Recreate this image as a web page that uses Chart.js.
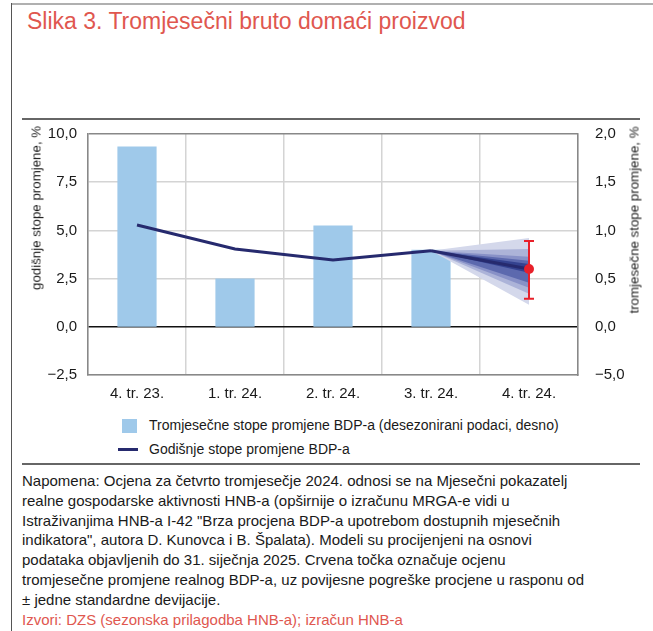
<!DOCTYPE html>
<html>
<head>
<meta charset="utf-8">
<script src="https://cdn.jsdelivr.net/npm/chart.js@4.4.1/dist/chart.umd.min.js"></script>
<style>
  body { margin: 0; background: #fff; width: 653px; height: 631px; position: relative; overflow: hidden;
         font-family: "Liberation Sans", Arial, sans-serif; color: #1a1a1a; }
  .abs { position: absolute; }
  #title { left: 27px; top: 8px; font-size: 23px; color: #e0574f; white-space: nowrap; }
  #frameTop { left: 12px; top: 3px; width: 641px; height: 2px; background: #b0b0b0; }
  #frameLeft { left: 11px; top: 3px; width: 1px; height: 628px; background: #555; }
  .rule { left: 22px; width: 618px; height: 1.5px; background: #666; }
  #chartBox { left: 0; top: 108px; width: 653px; height: 300px; }
  .ytitle { font-size: 13.3px; white-space: nowrap; transform: translate(-50%, -50%) rotate(-90deg); }
  .legend { left: 149px; font-size: 14px; white-space: nowrap; }
  #note { left: 22px; top: 471px; font-size: 15px; line-height: 19.8px; white-space: nowrap; }
  #source { left: 22px; top: 611px; font-size: 15px; color: #e0574f; white-space: nowrap; }
</style>
</head>
<body>
<div id="frameTop" class="abs"></div>
<div id="frameLeft" class="abs"></div>
<div id="title" class="abs">Slika 3. Tromjesečni bruto domaći proizvod</div>
<div id="chartBox" class="abs"><canvas id="gdp" width="653" height="300"></canvas></div>
<div class="abs rule" style="top:118px"></div>
<div class="abs ytitle" style="left:36px; top:208px">godišnje stope promjene, %</div>
<div class="abs ytitle" style="left:634px; top:220px">tromjesečne stope promjene, %</div>

<div class="abs" style="left:122px; top:419px; width:15px; height:14px; background:#9fc9ea"></div>
<div class="abs legend" style="top:417px">Tromjesečne stope promjene BDP-a (desezonirani podaci, desno)</div>
<div class="abs" style="left:118px; top:448px; width:20px; height:3px; background:#262a6e"></div>
<div class="abs legend" style="top:441px">Godišnje stope promjene BDP-a</div>

<div class="abs rule" style="top:463px"></div>
<div id="note" class="abs">Napomena: Ocjena za četvrto tromjesečje 2024. odnosi se na Mjesečni pokazatelj<br>realne gospodarske aktivnosti HNB-a (opširnije o izračunu MRGA-e vidi u<br>Istraživanjima HNB-a I-42 "Brza procjena BDP-a upotrebom dostupnih mjesečnih<br>indikatora", autora D. Kunovca i B. Špalata). Modeli su procijenjeni na osnovi<br>podataka objavljenih do 31. siječnja 2025. Crvena točka označuje ocjenu<br>tromjesečne promjene realnog BDP-a, uz povijesne pogreške procjene u rasponu od<br>± jedne standardne devijacije.</div>
<div id="source" class="abs">Izvori: DZS (sezonska prilagodba HNB-a); izračun HNB-a</div>

<script>
// categories and series
const quarters = ['4. tr. 23.', '1. tr. 24.', '2. tr. 24.', '3. tr. 24.', '4. tr. 24.'];
const quarterlyGrowth = [1.87, 0.50, 1.05, 0.80, null];   // right axis, bars
const annualGrowth = [5.28, 4.04, 3.47, 3.94, null];      // left axis, line
const annualNowcast = [null, null, null, 3.94, 3.0];      // line into the fan

// fan bands at 4. tr. 24. (left axis), outer -> inner
const fanUpper = [4.61, 4.04, 3.63, 3.42, 3.26];
const fanLower = [1.14, 1.71, 2.02, 2.28, 2.80];
const fanColors = ['#d4d8eb', '#acb3d8', '#8891c7', '#5c69ae', '#34428f'];

// red point estimate of quarterly change with +/- 1 sd (right axis)
const nowcastQoQ = [null, null, null, null, 0.60];
const errLow = 0.29;
const errHigh = 0.89;

const leftTicks = ['−2,5', '0,0', '2,5', '5,0', '7,5', '10,0'];
const rightTicks = ['−5,0', '0,0', '0,5', '1,0', '1,5', '2,0'];

const fontFam = '"Liberation Sans", Arial, sans-serif';
Chart.defaults.font.family = fontFam;
Chart.defaults.color = '#1a1a1a';

const fanDatasets = [];
fanUpper.forEach((up, i) => {
  const startVal = annualNowcast[3];
  fanDatasets.push({
    type: 'line', yAxisID: 'y',
    data: [null, null, null, startVal, up],
    borderWidth: 0, pointRadius: 0,
    backgroundColor: fanColors[i], fill: '+1',
    order: 50 - i * 2
  });
  fanDatasets.push({
    type: 'line', yAxisID: 'y',
    data: [null, null, null, startVal, fanLower[i]],
    borderWidth: 0, pointRadius: 0, fill: false,
    order: 50 - i * 2
  });
});

const errorBar = {
  id: 'errorBar',
  afterDatasetsDraw(chart) {
    const ctx = chart.ctx;
    const x = chart.scales.x.getPixelForValue(4);
    const y1 = chart.scales.y1.getPixelForValue(errHigh);
    const y2 = chart.scales.y1.getPixelForValue(errLow);
    ctx.save();
    ctx.strokeStyle = '#e8202a';
    ctx.lineWidth = 2;
    ctx.beginPath();
    ctx.moveTo(x, y1); ctx.lineTo(x, y2);
    ctx.moveTo(x - 5, y1); ctx.lineTo(x + 5, y1);
    ctx.moveTo(x - 5, y2); ctx.lineTo(x + 5, y2);
    ctx.stroke();
    ctx.restore();
  }
};

new Chart(document.getElementById('gdp'), {
  type: 'bar',
  data: {
    labels: quarters,
    datasets: [
      {
        label: 'Tromjesečne stope promjene BDP-a (desezonirani podaci, desno)',
        data: quarterlyGrowth, yAxisID: 'y1',
        backgroundColor: '#9fc9ea', barPercentage: 0.4, categoryPercentage: 1,
        order: 100
      },
      ...fanDatasets,
      {
        label: 'Godišnje stope promjene BDP-a',
        type: 'line', data: annualGrowth, yAxisID: 'y',
        borderColor: '#262a6e', borderWidth: 3, pointRadius: 0, fill: false,
        order: 5
      },
      {
        type: 'line', data: annualNowcast, yAxisID: 'y',
        borderColor: '#262a6e', borderWidth: 3, pointRadius: 0, fill: false,
        order: 4
      },
      {
        type: 'line', data: nowcastQoQ, yAxisID: 'y1',
        showLine: false, pointRadius: 5, pointBackgroundColor: '#e8202a',
        pointBorderWidth: 0, order: 1
      }
    ]
  },
  options: {
    responsive: false,
    animation: false,
    layout: { padding: { top: 5, left: 0, right: 0, bottom: 0 } },
    plugins: { legend: { display: false }, tooltip: { enabled: false } },
    scales: {
      x: {
        offset: true,
        grid: { offset: true, color: '#d4d4d4', lineWidth: 1.5, drawTicks: false },
        border: { color: '#888', width: 1.5 },
        ticks: { font: { size: 15 }, padding: 10, maxRotation: 0 },
        afterFit: (s) => { s.height = 33; }
      },
      y: {
        position: 'left', min: -2.5, max: 10,
        ticks: { stepSize: 2.5, font: { size: 15 }, padding: 11,
                 callback: (v, i) => leftTicks[i] },
        grid: {
          drawTicks: false, lineWidth: 1.5,
          color: (c) => c.tick.value === 0 ? '#111' : (c.tick.value === 10 ? '#888' : '#d4d4d4')
        },
        border: { color: '#888', width: 1.5 },
        afterFit: (s) => { s.width = 88; }
      },
      y1: {
        position: 'right', min: -0.5, max: 2.0,
        ticks: { stepSize: 0.5, font: { size: 15 }, padding: 17,
                 callback: (v, i) => rightTicks[i] },
        grid: { display: false, drawTicks: false },
        border: { color: '#888', width: 1.5 },
        afterFit: (s) => { s.width = 75; }
      }
    }
  },
  plugins: [errorBar]
});
</script>
</body>
</html>
